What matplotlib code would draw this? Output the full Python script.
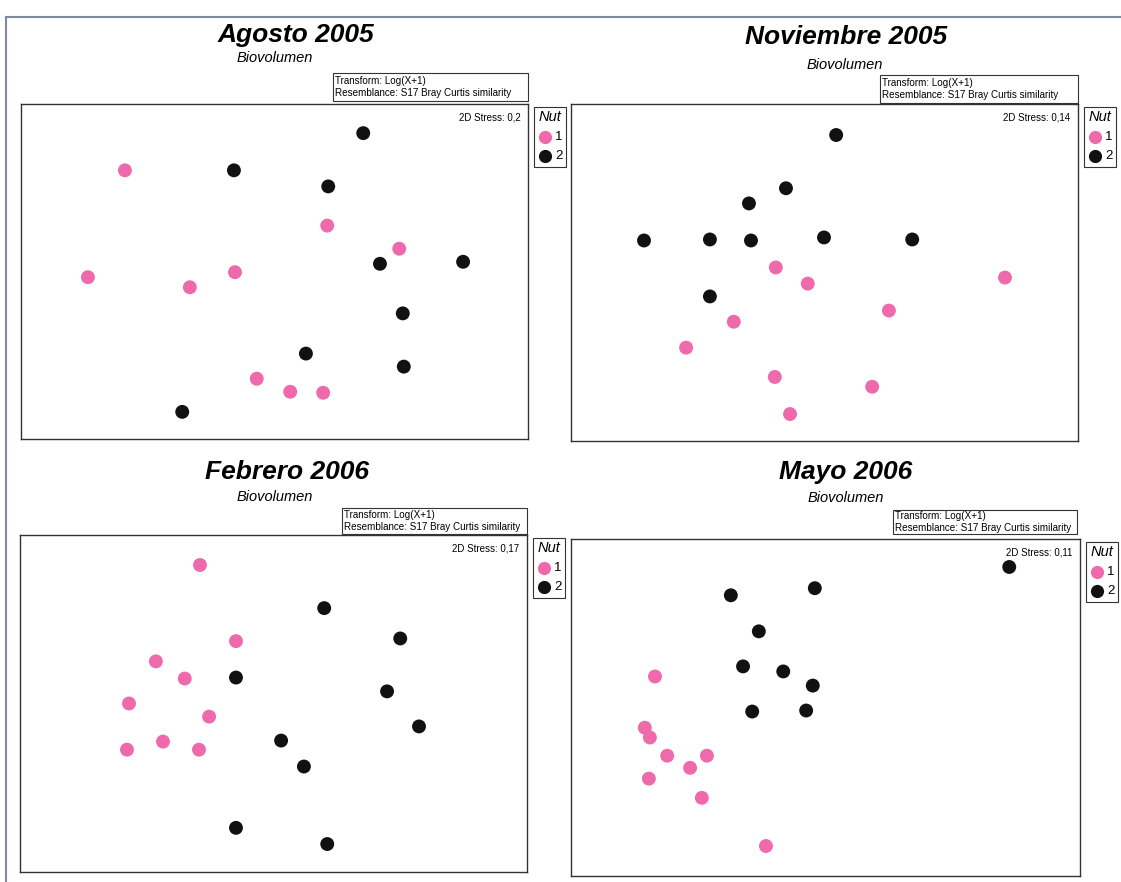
import matplotlib
matplotlib.use("Agg")
import matplotlib.pyplot as plt
from matplotlib.patches import Rectangle
from matplotlib.lines import Line2D

plt.rcParams["font.family"] = ["Liberation Sans", "DejaVu Sans"]

# NMDS ordination coordinates (arbitrary units)
titles = ["Agosto 2005", "Noviembre 2005", "Febrero 2006", "Mayo 2006"]
stress = ["0,2", "0,14", "0,17", "0,11"]

ago_x1 = [20.5, 13.2, 33.3, 42.2, 60.4, 74.6, 46.5, 53.1, 59.6]
ago_y1 = [80.2, 48.3, 45.3, 49.8, 63.7, 56.8, 18.0, 14.1, 13.8]
ago_x2 = [67.5, 42.0, 60.6, 70.8, 87.2, 75.3, 56.2, 75.5, 31.8]
ago_y2 = [91.3, 80.2, 75.4, 52.3, 52.9, 37.5, 25.5, 21.6, 8.1]

nov_x1 = [40.4, 46.7, 85.6, 32.1, 62.7, 22.7, 40.2, 59.4, 43.2]
nov_y1 = [51.5, 46.7, 48.5, 35.4, 38.7, 27.7, 19.0, 16.1, 8.0]
nov_x2 = [52.3, 42.4, 35.1, 14.4, 27.4, 35.5, 49.9, 67.3, 27.4]
nov_y2 = [90.8, 75.0, 70.5, 59.5, 59.8, 59.5, 60.4, 59.8, 42.9]

feb_x1 = [35.5, 42.6, 26.8, 32.5, 21.5, 37.3, 28.2, 21.1, 35.3]
feb_y1 = [91.1, 68.5, 62.5, 57.4, 50.0, 46.1, 38.7, 36.3, 36.3]
feb_x2 = [60.0, 75.0, 42.6, 72.4, 78.7, 51.5, 56.0, 42.6, 60.6]
feb_y2 = [78.3, 69.3, 57.7, 53.6, 43.2, 39.0, 31.3, 13.1, 8.3]

may_x1 = [16.5, 14.5, 15.5, 18.9, 23.4, 26.7, 15.3, 25.7, 38.3]
may_y1 = [59.2, 44.0, 41.1, 35.7, 32.1, 35.7, 28.9, 23.2, 8.9]
may_x2 = [86.1, 31.4, 47.9, 36.9, 33.8, 41.7, 47.5, 35.6, 46.2]
may_y2 = [91.7, 83.3, 85.4, 72.6, 62.2, 60.7, 56.5, 48.8, 49.1]

series = [
    (ago_x1, ago_y1, ago_x2, ago_y2),
    (nov_x1, nov_y1, nov_x2, nov_y2),
    (feb_x1, feb_y1, feb_x2, feb_y2),
    (may_x1, may_y1, may_x2, may_y2),
]

PINK = "#ef6aaa"
BLACK = "#111111"
W, H = 1121, 882

# axes boxes in pixels: left, top, right, bottom
boxes = [(21, 104, 528, 439), (571, 104, 1078, 441), (20, 535, 527, 872), (571, 539, 1080, 876)]
title_pos = [(296, 35), (846, 37), (287, 472), (846, 472)]
sub_pos = [(275, 58), (845, 65), (275, 497), (846, 498)]
note_box = [(333, 73, 528, 101), (880, 75, 1078, 103), (342, 508, 527, 534), (893, 510, 1077, 534)]

fig = plt.figure(figsize=(W / 100, H / 100), dpi=100)


def fx(px):
    return px / W


def fy(py):
    return 1 - py / H


# outer scan frame
fig.add_artist(Line2D([fx(6), fx(1121)], [fy(17), fy(17)], color="#7f8aa0", lw=1.5))
fig.add_artist(Line2D([fx(6), fx(6)], [fy(17), fy(882)], color="#7f8aa0", lw=1.5))

for i, (x1, y1, x2, y2) in enumerate(series):
    l, t, r, b = boxes[i]
    ax = fig.add_axes([fx(l), fy(b), (r - l) / W, (b - t) / H])
    ax.scatter(x1, y1, s=100, c=PINK, edgecolors="none", zorder=3)
    ax.scatter(x2, y2, s=100, c=BLACK, edgecolors="none", zorder=3)
    ax.set_xlim(0, 100)
    ax.set_ylim(0, 100)
    ax.set_xticks([])
    ax.set_yticks([])
    for sp in ax.spines.values():
        sp.set_color("#333333")
        sp.set_linewidth(1.0)
    ax.text(0.985, 0.975, f"2D Stress: {stress[i]}", transform=ax.transAxes,
            ha="right", va="top", fontsize=7)

    tx, ty = title_pos[i]
    fig.text(fx(tx), fy(ty), titles[i], ha="center", va="center",
             fontsize=19, fontweight="bold", fontstyle="italic")
    sx, sy = sub_pos[i]
    fig.text(fx(sx), fy(sy), "Biovolumen", ha="center", va="center",
             fontsize=10.5, fontstyle="italic")

    nl, nt, nr, nb = note_box[i]
    fig.add_artist(Rectangle((fx(nl), fy(nb)), (nr - nl) / W, (nb - nt) / H,
                             transform=fig.transFigure, fill=False, ec="#333333", lw=0.8))
    fig.text(fx(nl + 2), fy((nt + nb) / 2), "Transform: Log(X+1)\nResemblance: S17 Bray Curtis similarity",
             ha="left", va="center", fontsize=7.1, linespacing=1.2)

    # legend box
    lx = r + 6
    ly = t + 3
    fig.add_artist(Rectangle((fx(lx), fy(ly + 60)), 32 / W, 60 / H,
                             transform=fig.transFigure, fill=False, ec="#333333", lw=0.8))
    fig.text(fx(lx + 16), fy(ly + 10), "Nut", ha="center", va="center",
             fontsize=10.5, fontstyle="italic")
    fig.add_artist(Line2D([fx(lx + 11)], [fy(ly + 30)], marker="o", ms=9.5, color=PINK, mec="none"))
    fig.add_artist(Line2D([fx(lx + 11)], [fy(ly + 49)], marker="o", ms=9.5, color=BLACK, mec="none"))
    fig.text(fx(lx + 21), fy(ly + 30), "1", ha="left", va="center", fontsize=9.5)
    fig.text(fx(lx + 21), fy(ly + 49), "2", ha="left", va="center", fontsize=9.5)

fig.savefig("out.png", dpi=100)
